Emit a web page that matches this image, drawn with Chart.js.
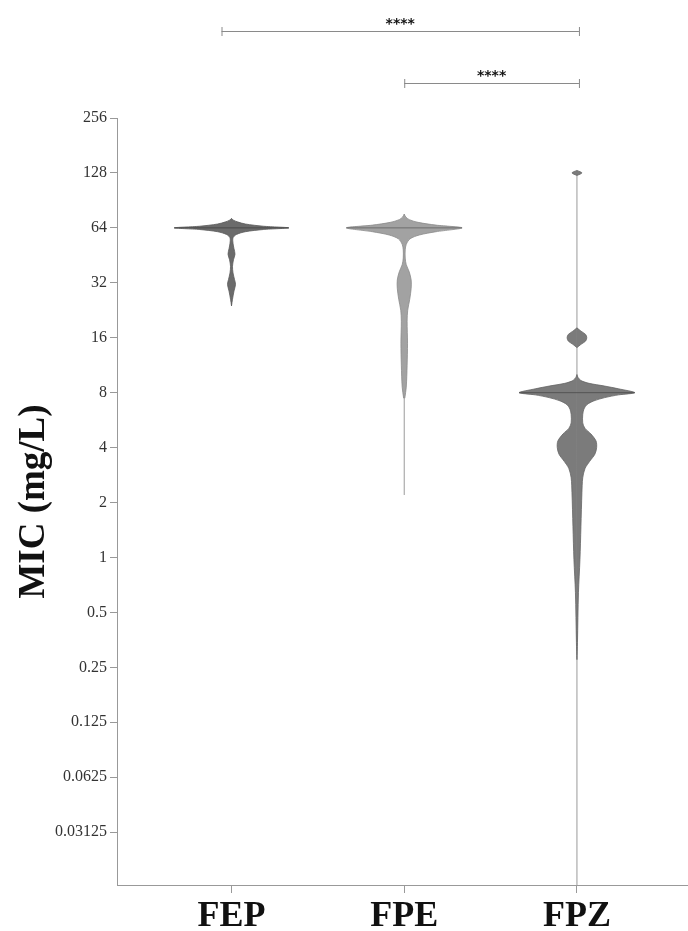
<!DOCTYPE html>
<html>
<head>
<meta charset="utf-8">
<title>MIC violin plot</title>
<script src="https://cdn.jsdelivr.net/npm/chart.js@4/dist/chart.umd.min.js"></script>
<style>
  body { margin: 0; background: #fff; }
  #wrap { width: 688px; height: 931px; }
</style>
</head>
<body>
<div id="wrap"><canvas id="micChart" width="688" height="931"></canvas></div>
<script>
// categories and y ticks (log2 scale)
const categories = ['FEP', 'FPE', 'FPZ'];
const tickValues = [0.03125, 0.0625, 0.125, 0.25, 0.5, 1, 2, 4, 8, 16, 32, 64, 128, 256];
const tickLabels = ['0.03125', '0.0625', '0.125', '0.25', '0.5', '1', '2', '4', '8', '16', '32', '64', '128', '256'];

// violin outlines: log2(MIC) levels and relative density (1 = widest)
const fepLog2 = [4.58, 4.70, 4.85, 4.97, 5.06, 5.18, 5.30, 5.42, 5.52, 5.62, 5.72, 5.82, 5.88, 5.93, 5.97, 6.00, 6.03, 6.07, 6.11, 6.14, 6.17];
const fepDensity = [0, 0.017, 0.043, 0.069, 0.052, 0.026, 0.017, 0.034, 0.06, 0.043, 0.026, 0.026, 0.086, 0.24, 0.55, 0.99, 0.55, 0.24, 0.1, 0.034, 0];

const fpeLog2 = [2.90, 3.10, 3.50, 3.90, 4.30, 4.50, 4.70, 4.90, 5.05, 5.20, 5.33, 5.45, 5.60, 5.70, 5.80, 5.87, 5.93, 6.00, 6.05, 6.10, 6.15, 6.20, 6.25];
const fpeDensity = [0.01, 0.035, 0.05, 0.057, 0.05, 0.06, 0.095, 0.12, 0.12, 0.086, 0.035, 0.017, 0.017, 0.035, 0.1, 0.26, 0.55, 1.0, 0.55, 0.24, 0.086, 0.026, 0];

const fpzLog2 = [-1.86, -1.55, -0.64, -0.04, 0.56, 1.18, 1.45, 1.62, 1.75, 1.88, 2.00, 2.12, 2.25, 2.35, 2.45, 2.60, 2.70, 2.78, 2.85, 2.91, 2.96, 3.00, 3.07, 3.12, 3.17, 3.22, 3.28, 3.33, 3.50, 3.82, 3.88, 3.94, 4.00, 4.06, 4.12, 4.18, 4.40, 6.955, 6.98, 7.00, 7.02, 7.045];
const fpzDensity = [0, 0.009, 0.026, 0.052, 0.069, 0.086, 0.10, 0.14, 0.22, 0.31, 0.34, 0.33, 0.24, 0.14, 0.10, 0.10, 0.12, 0.17, 0.29, 0.48, 0.72, 1.0, 0.72, 0.48, 0.21, 0.07, 0.017, 0, 0, 0, 0.07, 0.15, 0.17, 0.15, 0.07, 0, 0, 0, 0.06, 0.086, 0.06, 0];

const medians = [64, 64, 8];
const medianDensity = [0.99, 1.0, 1.0];
const rangeMin = [23.9, 2.2, 0.015625];
const rangeMax = [72, 76, 128];

const fillColors = ['#6b6b6b', '#a2a2a2', '#7b7b7b'];
const edgeColors = ['#5a5a5a', '#8a8a8a', '#666666'];
const medianColors = ['#4a4a4a', '#6e6e6e', '#555555'];

// significance brackets (category indices)
const comparisons = [[0, 2], [1, 2]];
const compLabels = ['****', '****'];

const maxHalf = 0.335; // half width of widest violin, in category units
const serif = "'Liberation Serif', 'Times New Roman', serif";

// right side going up, left side coming down; breaks where the outline is only the centre line
function violinPoints(center, levels, dens) {
    const right = levels.map((l, i) => ({ x: center + dens[i] * maxHalf, y: Math.pow(2, l) }));
    const left = levels.map((l, i) => ({ x: center - dens[i] * maxHalf, y: Math.pow(2, l) })).reverse();
    const pts = right.concat(left);
    const out = [];
    pts.forEach((p, i) => {
        const prev = pts[i - 1];
        if (prev && prev.x === center && p.x === center && prev.y !== p.y) out.push({ x: center, y: null });
        out.push(p);
    });
    return out;
}

const shapes = [[fepLog2, fepDensity], [fpeLog2, fpeDensity], [fpzLog2, fpzDensity]];
const datasets = [];

categories.forEach((cat, i) => {
    const c = i + 1;
    datasets.push({
        label: cat + ' range',
        data: [{ x: c, y: rangeMin[i] }, { x: c, y: rangeMax[i] }],
        showLine: true,
        borderColor: '#9a9a9a',
        borderWidth: 1,
        pointRadius: 0,
        order: 3
    });
    datasets.push({
        label: cat,
        data: violinPoints(c, shapes[i][0], shapes[i][1]),
        showLine: true,
        spanGaps: false,
        fill: 'shape',
        backgroundColor: fillColors[i],
        borderColor: edgeColors[i],
        borderWidth: 0.8,
        tension: 0.3,
        pointRadius: 0,
        order: 2
    });
    datasets.push({
        label: cat + ' median',
        data: [{ x: c - medianDensity[i] * maxHalf, y: medians[i] }, { x: c + medianDensity[i] * maxHalf, y: medians[i] }],
        showLine: true,
        borderColor: medianColors[i],
        borderWidth: 1,
        pointRadius: 0,
        order: 1
    });
});

// draws the significance brackets above the plot
const bracketPlugin = {
    id: 'brackets',
    afterDraw(chart) {
        const ctx = chart.ctx;
        const xs = chart.scales.x;
        const rows = [31, 83];
        ctx.save();
        comparisons.forEach((pair, k) => {
            const x1 = xs.getPixelForValue(pair[0] + 1) - (pair[0] === 0 ? 10 : 0);
            const x2 = xs.getPixelForValue(pair[1] + 1) + 2;
            const y = rows[k];
            ctx.strokeStyle = '#8a8a8a';
            ctx.lineWidth = 1;
            ctx.beginPath();
            ctx.moveTo(x1, y + 0.5); ctx.lineTo(x2, y + 0.5);
            ctx.moveTo(x1 + 0.5, y - 4); ctx.lineTo(x1 + 0.5, y + 5);
            ctx.moveTo(x2 + 0.5, y - 4); ctx.lineTo(x2 + 0.5, y + 5);
            ctx.stroke();
            ctx.fillStyle = '#111';
            ctx.font = "bold 14px 'DejaVu Sans', sans-serif";
            ctx.textAlign = 'center';
            ctx.textBaseline = 'middle';
            ctx.fillText(compLabels[k], (x1 + x2) / 2, y - 7);
        });
        ctx.restore();
    }
};

new Chart(document.getElementById('micChart'), {
    type: 'scatter',
    data: { datasets: datasets },
    options: {
        responsive: false,
        animation: false,
        layout: { padding: { top: 118, right: 0, left: 0, bottom: 0 } },
        plugins: { legend: { display: false }, tooltip: { enabled: false } },
        scales: {
            x: {
                type: 'linear',
                min: 0.337,
                max: 3.643,
                afterBuildTicks: (axis) => { axis.ticks = categories.map((c, i) => ({ value: i + 1 })); },
                afterFit: (axis) => { axis.height = 46; },
                ticks: {
                    callback: (v) => categories[v - 1],
                    font: { family: serif, size: 36, weight: 'bold' },
                    color: '#111',
                    padding: 2,
                    maxRotation: 0,
                    autoSkip: false
                },
                grid: { drawOnChartArea: false, tickLength: 8, color: '#999' },
                border: { color: '#999' }
            },
            y: {
                type: 'logarithmic',
                bounds: 'data',
                min: 0.01604,
                max: 256,
                afterBuildTicks: (axis) => { axis.ticks = tickValues.map(v => ({ value: v })); },
                afterFit: (axis) => { axis.width = 117; },
                ticks: {
                    callback: (v) => tickLabels[tickValues.indexOf(v)],
                    font: { family: serif, size: 16 },
                    color: '#333',
                    padding: 3,
                    autoSkip: false
                },
                grid: { drawOnChartArea: false, tickLength: 7, color: '#999' },
                border: { color: '#999' },
                title: {
                    display: true,
                    text: 'MIC (mg/L)',
                    font: { family: serif, size: 37, weight: 'bold' },
                    color: '#111',
                    padding: { top: 12, bottom: 0 }
                }
            }
        }
    },
    plugins: [bracketPlugin]
});
</script>
</body>
</html>
